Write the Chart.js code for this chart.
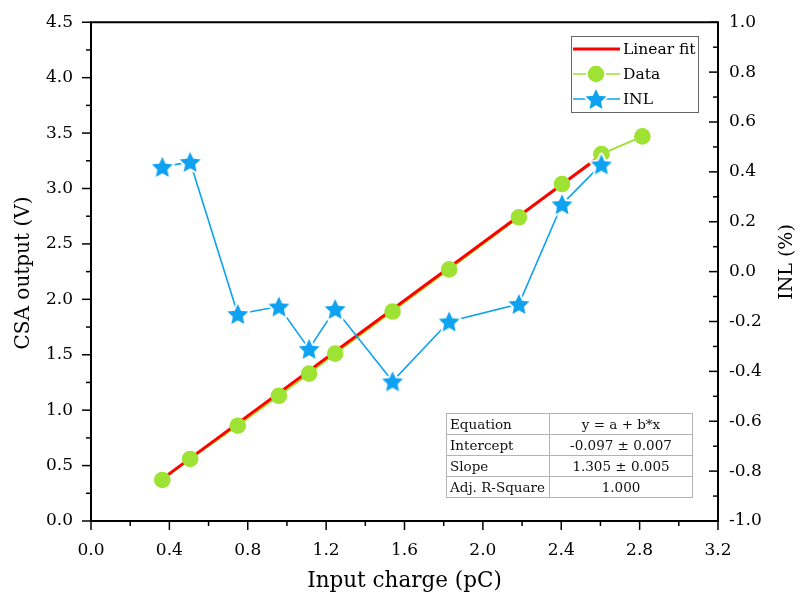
<!DOCTYPE html>
<html>
<head>
<meta charset="utf-8">
<script src="https://cdn.jsdelivr.net/npm/chart.js@4/dist/chart.umd.min.js"></script>
<style>
  body { margin: 0; background: #fff; }
  #wrap { position: relative; width: 802px; height: 601px; }
  #fitTable { position: absolute; left: 446px; top: 413px; border-collapse: collapse;
    font: 13.5px 'DejaVu Serif', serif; color: #111; }
  #fitTable td { border: 1px solid #b4b4b4; height: 20px; line-height: 20px; padding: 0 3px; white-space: nowrap; }
  #fitTable td:first-child { width: 96px; text-align: left; }
  #fitTable td:last-child { width: 136px; text-align: center; }
</style>
</head>
<body>
<div id="wrap">
  <canvas id="chart" width="802" height="601"></canvas>
  <table id="fitTable">
    <tr><td>Equation</td><td>y = a + b*x</td></tr>
    <tr><td>Intercept</td><td>-0.097 ± 0.007</td></tr>
    <tr><td>Slope</td><td>1.305 ± 0.005</td></tr>
    <tr><td>Adj. R-Square</td><td>1.000</td></tr>
  </table>
</div>
<script>
// values
const chargeX = [0.364, 0.506, 0.749, 0.959, 1.113, 1.246, 1.539, 1.828, 2.184, 2.404, 2.605, 2.814];
const csaOut  = [0.37, 0.56, 0.86, 1.13, 1.33, 1.51, 1.89, 2.27, 2.74, 3.04, 3.31, 3.47];
const inlX    = [0.364, 0.506, 0.749, 0.959, 1.113, 1.246, 1.539, 1.828, 2.184, 2.404, 2.605];
const inlPct  = [0.42, 0.44, -0.17, -0.14, -0.31, -0.15, -0.44, -0.20, -0.13, 0.27, 0.43];
const fitX    = [0.364, 2.605];
const fitY    = [0.38, 3.30];
const legendLabels = ['Linear fit', 'Data', 'INL'];

const RED = '#ff0000';
const GREEN = '#9ee234';
const BLUE = '#0ea2f0';
const FONT = "'DejaVu Serif', serif";

const pts = (xs, ys) => xs.map((x, i) => ({ x: x, y: ys[i] }));

function makeStar(r, color) {
    const c = document.createElement('canvas');
    const s = Math.ceil(r * 2 + 8);
    c.width = c.height = s;
    const g = c.getContext('2d');
    g.translate(s / 2, s / 2 + 1);
    g.beginPath();
    for (let i = 0; i < 10; i++) {
        const rad = i % 2 ? r * 0.48 : r;
        const a = -Math.PI / 2 + i * Math.PI / 5;
        g.lineTo(rad * Math.cos(a), rad * Math.sin(a));
    }
    g.closePath();
    g.lineJoin = 'round';
    g.lineWidth = 4;
    g.strokeStyle = '#fff';
    g.stroke();
    g.fillStyle = color;
    g.fill();
    return c;
}
const starImg = makeStar(11, BLUE);

const label1 = v => { const n = Math.abs(v) < 1e-9 ? 0 : v; return n.toFixed(1); };

const decoPlugin = {
    id: 'deco',
    afterDraw(chart) {
        const { ctx, chartArea: a, scales } = chart;
        ctx.save();
        ctx.strokeStyle = '#000';
        ctx.lineWidth = 1.5;
        const seg = (x1, y1, x2, y2) => { ctx.beginPath(); ctx.moveTo(x1, y1); ctx.lineTo(x2, y2); ctx.stroke(); };
        // x ticks (outward)
        for (let i = 0; i <= 16; i++) {
            const px = scales.x.getPixelForValue(i * 0.2);
            seg(px, a.bottom, px, a.bottom + (i % 2 ? 5 : 9));
        }
        // left ticks (outward)
        for (let i = 0; i <= 18; i++) {
            const py = scales.y.getPixelForValue(i * 0.25);
            seg(a.left, py, a.left - (i % 2 ? 5 : 9), py);
        }
        // right ticks (inward)
        for (let i = 0; i <= 20; i++) {
            const py = scales.y2.getPixelForValue(-1 + i * 0.1);
            seg(a.right, py, a.right - (i % 2 ? 5 : 9), py);
        }
        ctx.lineWidth = 2;
        ctx.strokeRect(a.left, a.top, a.right - a.left, a.bottom - a.top);

        // axis titles
        ctx.fillStyle = '#000';
        ctx.textAlign = 'center';
        ctx.textBaseline = 'middle';
        ctx.font = '21.5px ' + FONT;
        ctx.fillText('Input charge (pC)', (a.left + a.right) / 2, 581);
        ctx.save();
        ctx.font = '20px ' + FONT;
        ctx.translate(24, 273);
        ctx.rotate(-Math.PI / 2);
        ctx.fillText('CSA output (V)', 0, 0);
        ctx.restore();
        ctx.save();
        ctx.font = '19px ' + FONT;
        ctx.translate(787, 262);
        ctx.rotate(-Math.PI / 2);
        ctx.fillText('INL (%)', 0, 0);
        ctx.restore();

        // legend box
        ctx.lineWidth = 1;
        ctx.strokeStyle = '#666';
        ctx.strokeRect(571.5, 36.5, 127, 76);
        const rows = [49, 74, 99];
        ctx.font = '15.5px ' + FONT;
        ctx.textAlign = 'left';
        // Linear fit
        ctx.strokeStyle = RED; ctx.lineWidth = 3;
        seg(573, rows[0], 620, rows[0]);
        // Data
        ctx.strokeStyle = GREEN; ctx.lineWidth = 1.5;
        seg(573, rows[1], 620, rows[1]);
        ctx.fillStyle = '#fff';
        ctx.beginPath(); ctx.arc(596, rows[1], 10, 0, Math.PI * 2); ctx.fill();
        ctx.fillStyle = GREEN;
        ctx.beginPath(); ctx.arc(596, rows[1], 8.3, 0, Math.PI * 2); ctx.fill();
        // INL
        ctx.strokeStyle = BLUE;
        seg(573, rows[2], 620, rows[2]);
        ctx.drawImage(starImg, 596 - starImg.width / 2, rows[2] - starImg.height / 2);
        ctx.fillStyle = '#000';
        legendLabels.forEach((t, i) => ctx.fillText(t, 623, rows[i] + 1));
        ctx.restore();
    }
};

new Chart(document.getElementById('chart'), {
    type: 'line',
    data: {
        datasets: [
            {
                label: 'INL',
                data: pts(inlX, inlPct),
                yAxisID: 'y2',
                borderColor: BLUE,
                borderWidth: 1.6,
                pointStyle: starImg,
                order: 0
            },
            {
                label: 'Data points',
                data: pts(chargeX, csaOut),
                yAxisID: 'y',
                showLine: false,
                pointStyle: 'circle',
                pointRadius: 8.3,
                pointBackgroundColor: GREEN,
                pointBorderColor: GREEN,
                pointBorderWidth: 0,
                order: 1
            },
            {
                label: 'Linear fit',
                data: pts(fitX, fitY),
                yAxisID: 'y',
                borderColor: RED,
                borderWidth: 3,
                pointRadius: 0,
                order: 2
            },
            {
                label: 'Data',
                data: pts(chargeX, csaOut),
                yAxisID: 'y',
                borderColor: GREEN,
                borderWidth: 2,
                pointRadius: 0,
                order: 3
            }
        ]
    },
    options: {
        responsive: false,
        animation: false,
        layout: { padding: { top: 20, left: 0, right: 0, bottom: 0 } },
        plugins: { legend: { display: false }, tooltip: { enabled: false } },
        elements: { line: { tension: 0, fill: false } },
        scales: {
            x: {
                type: 'linear', position: 'bottom', min: 0, max: 3.2,
                grid: { display: false, drawTicks: false }, border: { display: false },
                ticks: { stepSize: 0.4, padding: 19, maxRotation: 0, autoSkip: false,
                    color: '#000', font: { family: FONT, size: 17 }, callback: label1 },
                afterFit: s => { s.height = 80; }
            },
            y: {
                type: 'linear', position: 'left', min: 0, max: 4.5,
                grid: { display: false, drawTicks: false }, border: { display: false },
                ticks: { stepSize: 0.5, padding: 18, autoSkip: false,
                    color: '#000', font: { family: FONT, size: 17, lineHeight: 0.5 }, callback: label1 },
                afterFit: s => { s.width = 91; }
            },
            y2: {
                type: 'linear', position: 'right', min: -1, max: 1,
                grid: { display: false, drawTicks: false }, border: { display: false },
                ticks: { stepSize: 0.2, padding: 11, autoSkip: false,
                    color: '#000', font: { family: FONT, size: 17, lineHeight: 0.5 }, callback: label1 },
                afterFit: s => { s.width = 84; }
            }
        }
    },
    plugins: [decoPlugin]
});
</script>
</body>
</html>
